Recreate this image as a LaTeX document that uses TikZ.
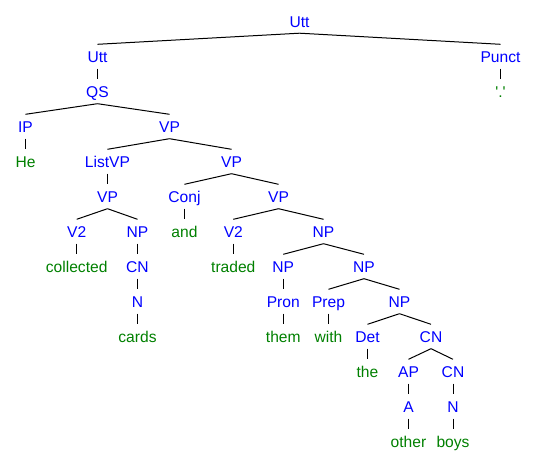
\documentclass[tikz,border=0pt]{standalone}
\usepackage{fontspec}
\setmainfont{Liberation Sans}
\usepackage{xcolor}
\usepackage{tikz}
\definecolor{catblue}{RGB}{0,0,255}
\definecolor{wordgreen}{RGB}{0,128,0}
\tikzset{
  tnode/.style={anchor=base, inner xsep=0pt, inner ysep=2.5pt, text height=16pt, text depth=3pt,
    font=\fontsize{15.6}{18}\selectfont},
  cat/.style={tnode, text=catblue},
  word/.style={tnode, text=wordgreen},
  edge/.style={draw=black, line width=1pt},
}

\begin{document}
\begin{tikzpicture}[x=1pt, y=-1pt]
  \useasboundingbox (0,0) rectangle (536,462);
  % categories and words, row by row
  \node[cat] (utt0) at (299.5,27.5) {Utt};
  \node[cat] (utt) at (97.5,63) {Utt};
  \node[cat] (punct) at (500.5,63) {Punct};
  \node[cat] (qs) at (97.5,98) {QS};
  \node[word] (dot) at (500.5,98) {\textquotesingle.\textquotesingle};
  \node[cat] (ip) at (25.5,133) {IP};
  \node[cat] (vp1) at (169.5,133) {VP};
  \node[word] (he) at (25.5,168) {He};
  \node[cat] (listvp) at (107.5,168) {ListVP};
  \node[cat] (vp2) at (231.5,168) {VP};
  \node[cat] (vp3) at (107.5,203) {VP};
  \node[cat] (conj) at (184.5,203) {Conj};
  \node[cat] (vp4) at (278.5,203) {VP};
  \node[cat] (v2a) at (76.7,238) {V2};
  \node[cat] (npa) at (137.5,238) {NP};
  \node[word] (and) at (184.5,238) {and};
  \node[cat] (v2b) at (233.3,238) {V2};
  \node[cat] (npb) at (323.5,238) {NP};
  \node[word] (collected) at (76.7,273) {collected};
  \node[cat] (cna) at (137.5,273) {CN};
  \node[word] (traded) at (233.3,273) {traded};
  \node[cat] (npc) at (283.3,273) {NP};
  \node[cat] (npd) at (364,273) {NP};
  \node[cat] (na) at (137.5,308) {N};
  \node[cat] (pron) at (283.3,308) {Pron};
  \node[cat] (prep) at (328.5,308) {Prep};
  \node[cat] (npe) at (399.5,308) {NP};
  \node[word] (cards) at (137.5,343) {cards};
  \node[word] (them) at (283.3,343) {them};
  \node[word] (with) at (328.5,343) {with};
  \node[cat] (det) at (367.5,343) {Det};
  \node[cat] (cnb) at (431,343) {CN};
  \node[word] (the) at (367.5,378) {the};
  \node[cat] (ap) at (408.5,378) {AP};
  \node[cat] (cnc) at (453,378) {CN};
  \node[cat] (a) at (408.5,413) {A};
  \node[cat] (nb) at (453,413) {N};
  \node[word] (other) at (408.5,448) {other};
  \node[word] (boys) at (453,448) {boys};
  % branches
  \foreach \p/\c in {utt0/utt, utt0/punct, utt/qs, punct/dot, qs/ip, qs/vp1, ip/he,
      vp1/listvp, vp1/vp2, listvp/vp3, vp2/conj, vp2/vp4, vp3/v2a, vp3/npa, conj/and,
      vp4/v2b, vp4/npb, v2a/collected, npa/cna, v2b/traded, npb/npc, npb/npd,
      cna/na, npc/pron, npd/prep, npd/npe, na/cards, pron/them, prep/with,
      npe/det, npe/cnb, det/the, cnb/ap, cnb/cnc, ap/a, cnc/nb, a/other, nb/boys}
    \draw[edge] (\p.south) -- (\c.north);
\end{tikzpicture}
\end{document}
